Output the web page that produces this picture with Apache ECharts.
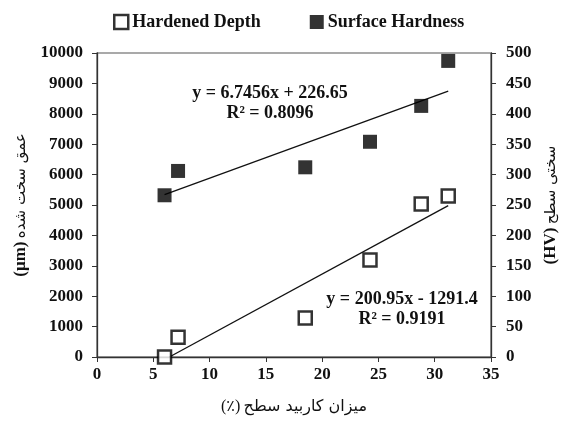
<!DOCTYPE html>
<html><head><meta charset="utf-8">
<script src="https://cdn.jsdelivr.net/npm/echarts@6/dist/echarts.min.js"></script>
<style>html,body{margin:0;padding:0;background:#fff}#c{width:570px;height:425px}</style>
</head><body><div id="c"></div>
<script>
const carbide = [6, 7.2, 18.5, 24.25, 28.8, 31.2];
const hardenedDepth = [0, 650, 1280, 3190, 5030, 5300];
const surfaceHardness = [266, 306, 312, 354, 413, 487];
const depthFit = {slope: 200.95, intercept: -1291.4, r2: '0.9191'};
const hardFit = {slope: 6.7456, intercept: 226.65, r2: '0.8096'};
const depthTicks = [0,1000,2000,3000,4000,5000,6000,7000,8000,9000,10000];
const hvTicks = [0,50,100,150,200,250,300,350,400,450,500];
const xTicks = [0,5,10,15,20,25,30,35];

const FONT = "'Liberation Serif','DejaVu Sans',serif";
const chart = echarts.init(document.getElementById('c'), null, {renderer:'canvas'});
const xMin = carbide[0], xMax = carbide[carbide.length-1];
const depthStart = Math.max(xMin, -depthFit.intercept/depthFit.slope);
const depthLine = [[depthStart, depthFit.slope*depthStart+depthFit.intercept],[xMax, depthFit.slope*xMax+depthFit.intercept]];
const hardLine = [[xMin, hardFit.slope*xMin+hardFit.intercept],[xMax, hardFit.slope*xMax+hardFit.intercept]];
const axisLbl = {fontFamily:FONT, fontWeight:'bold', fontSize:17, color:'#111', formatter:v=>String(v)};
const axisLine = {show:true, lineStyle:{color:'#333', width:1.3}};
const nameRich = {
  b:{fontFamily:FONT, fontWeight:'bold', fontSize:17, color:'#111'},
  a:{fontFamily:"'DejaVu Sans',serif", fontWeight:'normal', fontSize:15, color:'#111'}
};
chart.setOption({
  animation:false,
  backgroundColor:'#fff',
  grid:{left:97, right:79, top:53, bottom:68, show:true, borderColor:'#555', borderWidth:1.2, backgroundColor:'transparent'},
  legend:{top:8, left:108, itemGap:49, itemWidth:14, itemHeight:14,
    textStyle:{fontFamily:FONT, fontWeight:'bold', fontSize:18, color:'#111', padding:[0,0,0,-1]},
    data:[
      {name:'Hardened Depth', itemStyle:{color:'#fff', borderColor:'#000', borderWidth:2.5}},
      {name:'Surface Hardness', itemStyle:{color:'#000'}}
    ]},
  xAxis:{type:'value', min:xTicks[0], max:xTicks[xTicks.length-1], interval:5,
    axisLine:axisLine, axisTick:{show:true, inside:false, length:5, lineStyle:{color:'#333'}},
    splitLine:{show:false}, axisLabel:{...axisLbl, margin:9},
    name:'{b|(٪)} {a|میزان کاربید سطح}', nameLocation:'middle', nameGap:42,
    nameTextStyle:{rich:{b:{...nameRich.b, fontWeight:'normal', fontSize:16}, a:{...nameRich.a, fontSize:16}}}},
  yAxis:[
    {type:'value', min:depthTicks[0], max:depthTicks[depthTicks.length-1], interval:1000, position:'left',
     axisLine:axisLine, axisTick:{show:true, length:5, lineStyle:{color:'#333'}},
     splitLine:{show:false}, axisLabel:{...axisLbl, margin:14},
     name:'{b|(µm)} {a|عمق سخت شده}', nameLocation:'middle', nameGap:67, nameRotate:90,
     nameTextStyle:{rich:nameRich}},
    {type:'value', min:hvTicks[0], max:hvTicks[hvTicks.length-1], interval:50, position:'right',
     axisLine:axisLine, axisTick:{show:true, length:5, lineStyle:{color:'#333'}},
     splitLine:{show:false}, axisLabel:{...axisLbl, margin:15},
     name:'{b|(HV)} {a|سختی سطح}', nameLocation:'middle', nameGap:51, nameRotate:90,
     nameTextStyle:{rich:nameRich}}
  ],
  series:[
    {name:'Hardened Depth', type:'scatter', yAxisIndex:0, symbol:'rect', symbolSize:13, z:5,
     itemStyle:{color:'#fff', borderColor:'#000', borderWidth:2.5},
     data:carbide.map((x,i)=>[x, hardenedDepth[i]])},
    {name:'Surface Hardness', type:'scatter', yAxisIndex:1, symbol:'rect', symbolSize:14, z:5,
     itemStyle:{color:'#000'},
     data:carbide.map((x,i)=>[x, surfaceHardness[i]])},
    {name:'depthTrend', type:'line', yAxisIndex:0, data:depthLine, symbol:'none', silent:true, z:3,
     lineStyle:{color:'#111', width:1.3}},
    {name:'hardTrend', type:'line', yAxisIndex:1, data:hardLine, symbol:'none', silent:true, z:3,
     lineStyle:{color:'#111', width:1.3}}
  ],
  graphic:[
    {type:'text', x:270, y:93, style:{text:'y = '+hardFit.slope+'x + '+hardFit.intercept, font:"bold 18px "+FONT, fill:'#111', align:'center', verticalAlign:'middle'}},
    {type:'text', x:270, y:113, style:{text:'R² = '+hardFit.r2, font:"bold 18px "+FONT, fill:'#111', align:'center', verticalAlign:'middle'}},
    {type:'text', x:402, y:299, style:{text:'y = '+depthFit.slope+'x - '+Math.abs(depthFit.intercept), font:"bold 18px "+FONT, fill:'#111', align:'center', verticalAlign:'middle'}},
    {type:'text', x:402, y:319, style:{text:'R² = '+depthFit.r2, font:"bold 18px "+FONT, fill:'#111', align:'center', verticalAlign:'middle'}}
  ]
});
</script></body></html>
